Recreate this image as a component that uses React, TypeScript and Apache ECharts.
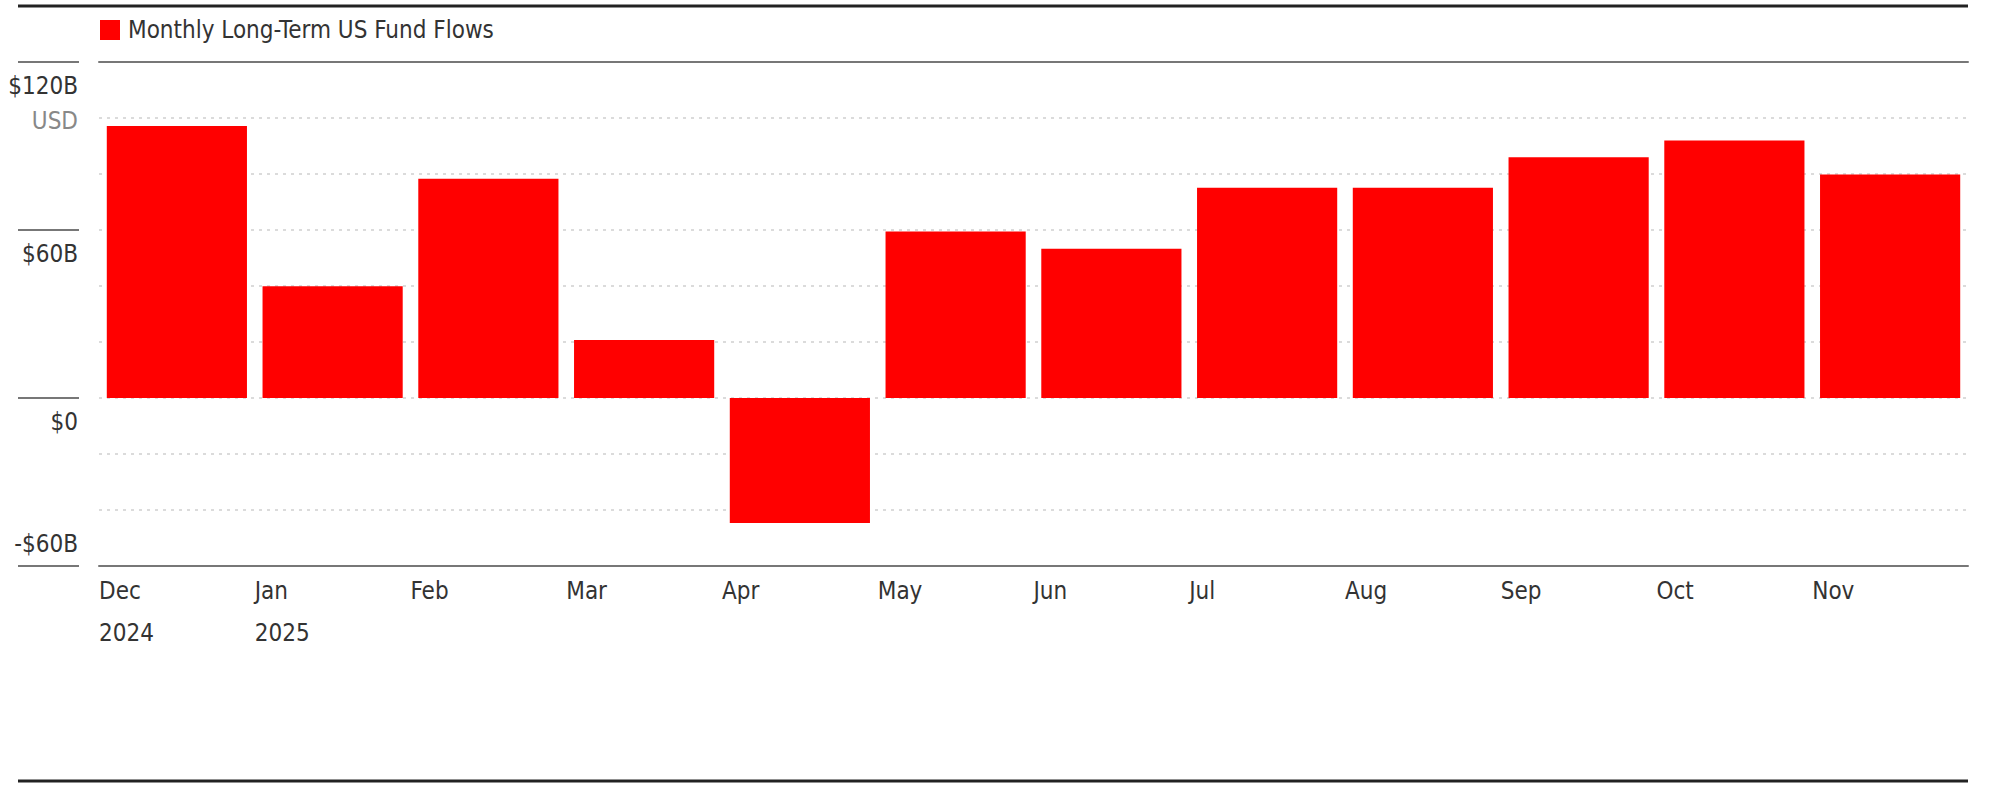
import { useEffect, useRef } from 'react'
import * as echarts from 'echarts'

const months = ['Dec', 'Jan', 'Feb', 'Mar', 'Apr', 'May', 'Jun', 'Jul', 'Aug', 'Sep', 'Oct', 'Nov']
const years = ['2024', '2025', '', '', '', '', '', '', '', '', '', '']
const flows = [97.1, 39.9, 78.3, 20.7, -44.6, 59.5, 53.3, 75.1, 75.1, 86.0, 92.0, 79.8]
const yLabelsBelow = [120, 60, 0]
const yLabelsAbove = [-60]

const FONT = "'Liberation Sans Narrow', 'DejaVu Sans Condensed', Roboto, sans-serif"
const TEXT = '#333'
const RULE = '#777'

function money(v: number) {
  return v < 0 ? `-$${Math.abs(v)}B` : v === 0 ? '$0' : `$${v}B`
}

export default function App() {
  const chartRef = useRef<HTMLDivElement>(null)

  useEffect(() => {
    if (!chartRef.current) return
    document.body.style.margin = '0'
    const chart = echarts.init(chartRef.current, undefined, { renderer: 'svg' })

    const labelStyle = { fontSize: 24, color: TEXT, fontFamily: FONT }

    const option: echarts.EChartsOption = {
      animation: false,
      backgroundColor: '#fff',
      textStyle: { fontFamily: FONT },
      grid: [
        { left: 99, right: 32, top: 62, bottom: 234 },
        // narrow strip on the left that holds the short tick rules
        { left: 18, right: 1921, top: 62, bottom: 234 },
      ],
      legend: {
        left: 100,
        top: 18,
        padding: 0,
        icon: 'rect',
        itemWidth: 20,
        itemHeight: 20,
        textStyle: { ...labelStyle, lineHeight: 20, padding: [0, 0, 0, 3] },
        data: ['Monthly Long-Term US Fund Flows'],
      },
      graphic: [
        { type: 'line', shape: { x1: 18, y1: 6, x2: 1968, y2: 6 }, style: { stroke: '#222', lineWidth: 3 } },
        { type: 'line', shape: { x1: 18, y1: 781, x2: 1968, y2: 781 }, style: { stroke: '#222', lineWidth: 3 } },
      ],
      xAxis: [
        {
          type: 'category',
          data: months,
          position: 'bottom',
          axisLine: { onZero: false, lineStyle: { color: RULE, width: 2 } },
          axisTick: { show: false },
          axisLabel: { show: false },
          splitLine: { show: false },
        },
        {
          type: 'category',
          data: months,
          position: 'top',
          axisLine: { onZero: false, lineStyle: { color: RULE, width: 2 } },
          axisTick: { show: false },
          axisLabel: { show: false },
          splitLine: { show: false },
        },
        {
          // label axis: each tick sits on the left edge of a month band
          type: 'value',
          min: 0,
          max: 12,
          interval: 1,
          position: 'bottom',
          axisLine: { show: false, onZero: false },
          axisTick: { show: false },
          splitLine: { show: false },
          axisLabel: {
            ...labelStyle,
            align: 'left',
            verticalAlign: 'top',
            margin: 4,
            lineHeight: 42,
            formatter: (v: number) => {
              if (v >= months.length) return ''
              return years[v] ? `${months[v]}\n${years[v]}` : months[v]
            },
          },
        },
        { type: 'value', gridIndex: 1, min: 0, max: 1, show: false },
      ],
      yAxis: [
        {
          type: 'value',
          min: -60,
          max: 120,
          interval: 20,
          position: 'left',
          axisLine: { show: false },
          axisTick: { show: false },
          axisLabel: { show: false },
          splitLine: { show: true, lineStyle: { color: '#cfcfcf', type: [3, 5], width: 1.5 } },
        },
        {
          type: 'value',
          min: -60,
          max: 120,
          interval: 20,
          position: 'left',
          offset: 20,
          axisLine: { show: false },
          axisTick: { show: false },
          splitLine: { show: false },
          axisLabel: {
            ...labelStyle,
            customValues: yLabelsBelow,
            margin: 1,
            verticalAlign: 'top',
            lineHeight: 35,
            padding: [6, 0, 0, 0],
            formatter: (v: number) => (v === 120 ? `${money(v)}\n{u|USD}` : money(v)),
            rich: { u: { color: '#888', fontSize: 24, lineHeight: 35, fontFamily: FONT } },
          },
        },
        {
          type: 'value',
          min: -60,
          max: 120,
          interval: 20,
          position: 'left',
          offset: 20,
          axisLine: { show: false },
          axisTick: { show: false },
          splitLine: { show: false },
          axisLabel: {
            ...labelStyle,
            customValues: yLabelsAbove,
            margin: 1,
            verticalAlign: 'bottom',
            lineHeight: 28,
            padding: [0, 0, 8, 0],
            formatter: (v: number) => money(v),
          },
        },
        {
          type: 'value',
          gridIndex: 1,
          min: -60,
          max: 120,
          interval: 60,
          axisLine: { show: false },
          axisTick: { show: false },
          axisLabel: { show: false },
          splitLine: { show: true, lineStyle: { color: RULE, width: 2 } },
        },
      ],
      series: [
        {
          name: 'Monthly Long-Term US Fund Flows',
          type: 'bar',
          xAxisIndex: 0,
          yAxisIndex: 0,
          data: flows,
          barCategoryGap: '10%',
          itemStyle: { color: '#ff0000' },
        },
      ],
    }

    chart.setOption(option)
    return () => chart.dispose()
  }, [])

  return <div ref={chartRef} style={{ width: 2000, height: 800 }} />
}
